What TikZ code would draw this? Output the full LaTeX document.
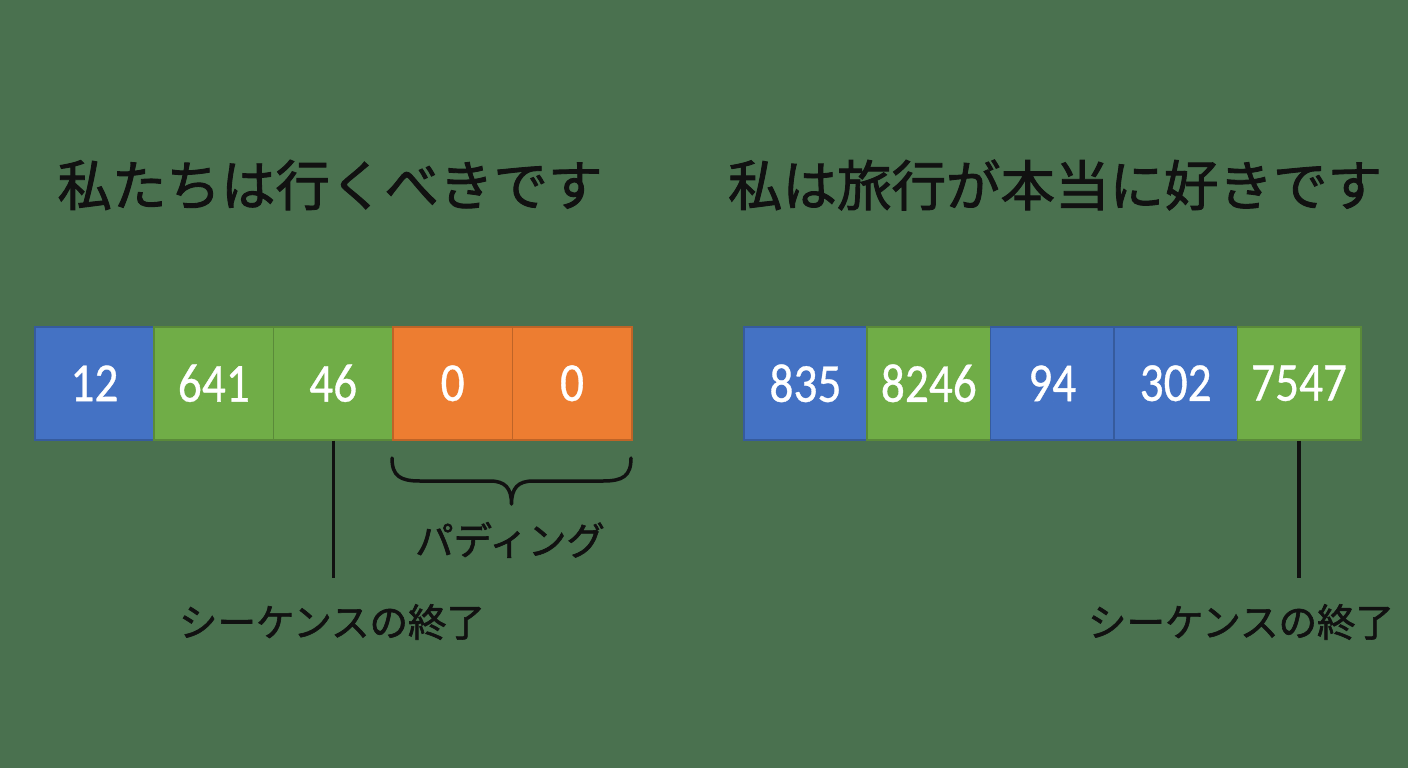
\documentclass[tikz,border=0pt]{standalone}
\usepackage{fontspec}
\newfontfamily\jpfont{Noto Sans CJK JP}[FakeBold=1.6]
\newfontfamily\numfont{Carlito}[FakeStretch=0.86,FakeBold=0.6]
\definecolor{bg}{HTML}{4A714F}
\definecolor{cblue}{HTML}{4472C4}
\definecolor{cgreen}{HTML}{70AD47}
\definecolor{corange}{HTML}{ED7D31}
\definecolor{ink}{HTML}{111111}
\begin{document}
\begin{tikzpicture}[x=1pt,y=-1pt,
  cell/.style={draw=#1!80!black, line width=1.5pt, fill=#1, minimum height=113pt, inner sep=0pt, anchor=north west, text=white, font=\numfont\fontsize{55}{55}\selectfont},
  lcell/.style={cell=#1, minimum width=119.4pt},
  rcell/.style={cell=#1, minimum width=123.4pt},
  title/.style={text=ink, font=\jpfont\fontsize{54.5}{54.5}\selectfont, inner sep=0pt},
  label/.style={text=ink, font=\jpfont\fontsize{38.5}{38.5}\selectfont, inner sep=0pt},
  conn/.style={draw=ink, line width=3.5pt}
]
\fill[bg] (0,0) rectangle (1408,768);
\useasboundingbox (0,0) rectangle (1408,768);

\node[title] (t1) at (330,185) {私たちは行くべきです};
\node[title] (t2) at (1055,185) {私は旅行が本当に好きです};

% left sequence
\node[lcell=cblue]   (a1) at (34,326)    {12};
\node[lcell=cgreen]  (a2) at (153.4,326) {641};
\node[lcell=cgreen]  (a3) at (272.8,326) {46};
\node[lcell=corange] (a4) at (392.2,326) {0};
\node[lcell=corange] (a5) at (511.6,326) {0};

% right sequence
\node[rcell=cblue]   (b1) at (743,326)    {835};
\node[rcell=cgreen]  (b2) at (866.4,326)  {8246};
\node[rcell=cblue]   (b3) at (989.8,326)  {94};
\node[rcell=cblue]   (b4) at (1113.2,326) {302};
\node[rcell=cgreen]  (b5) at (1236.6,326) {7547};

% end-of-sequence markers
\coordinate (e1) at (332,578);
\coordinate (e2) at (1298,578);
\draw[conn] (a3.south) -- (a3.south |- e1);
\draw[conn] (b5.south) -- (b5.south |- e2);
\node[label] (l1) at (332,622) {シーケンスの終了};
\node[label] (l2) at (1241,622) {シーケンスの終了};

% brace
\coordinate (bl) at (392,458);
\coordinate (br) at (631,458);
\coordinate (bt) at (511.5,504);
\draw[conn, line cap=round, line join=round]
  (bl) .. controls (392,476) and (400,481) .. (420,481)
  -- (490,481) .. controls (505,481) and (511.5,488) .. (bt)
  .. controls (511.5,488) and (518,481) .. (533,481)
  -- (603,481) .. controls (623,481) and (631,476) .. (br);
\node[label] (pad) at (510,540) {パディング};
\end{tikzpicture}
\end{document}
